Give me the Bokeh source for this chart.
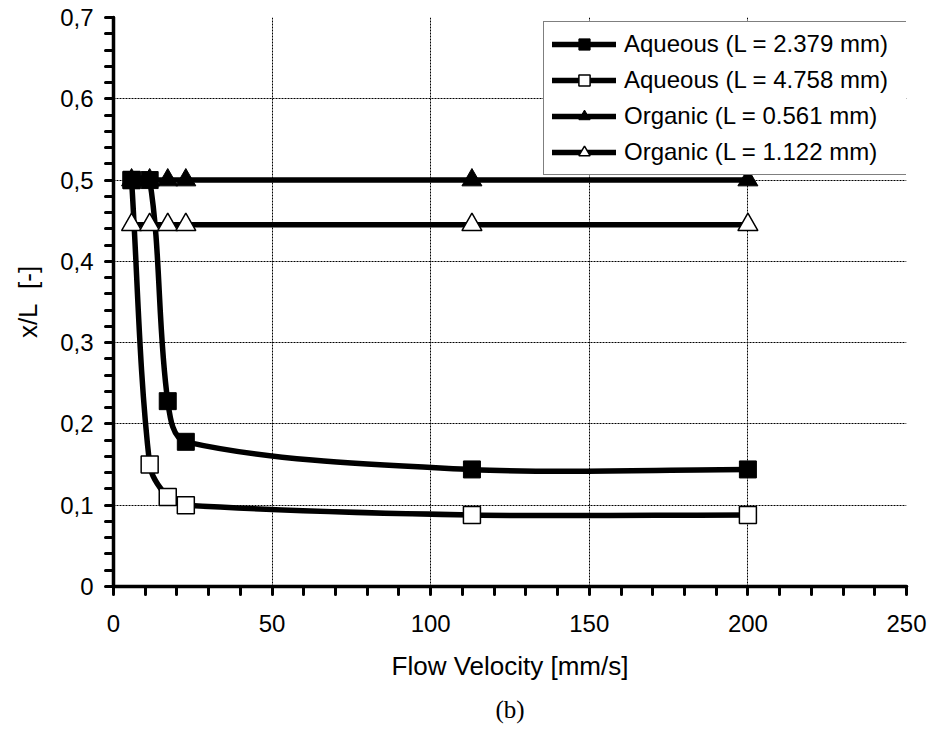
from bokeh.plotting import figure
from bokeh.models import (Range1d, FixedTicker, CustomJSTickFormatter, Legend,
                          LegendItem, Title, ColumnDataSource)
from bokeh.embed import file_html
from bokeh.resources import INLINE

# ---------------- data ----------------
velocity = [5.7, 11.4, 17.1, 22.8, 113.0, 200.0]
aqueous_2379 = [0.500, 0.500, 0.228, 0.178, 0.144, 0.144]
aqueous_4758 = [0.500, 0.150, 0.110, 0.100, 0.088, 0.088]
organic_0561 = [0.500, 0.500, 0.500, 0.500, 0.500, 0.500]
organic_1122 = [0.445, 0.445, 0.445, 0.445, 0.445, 0.445]

labels = ["Aqueous (L = 2.379 mm)", "Aqueous (L = 4.758 mm)",
          "Organic (L = 0.561 mm)", "Organic (L = 1.122 mm)"]

x_ticks = [0, 50, 100, 150, 200, 250]
x_minor = [10, 20, 30, 40, 60, 70, 80, 90, 110, 120, 130, 140, 160, 170, 180, 190,
           210, 220, 230, 240]
y_ticks = [0, 0.1, 0.2, 0.3, 0.4, 0.5, 0.6, 0.7]
y_minor = [0.02, 0.04, 0.06, 0.08, 0.12, 0.14, 0.16, 0.18, 0.22, 0.24, 0.26, 0.28,
           0.32, 0.34, 0.36, 0.38, 0.42, 0.44, 0.46, 0.48, 0.52, 0.54, 0.56, 0.58,
           0.62, 0.64, 0.66, 0.68]

X_MIN, X_MAX = 0, 250
Y_MIN, Y_MAX = 0, 0.7
FRAME_W, FRAME_H = 793, 569
FONT = "Liberation Sans"


def smooth_segments(xs, ys):
    """Bezier control points for a spreadsheet-style smoothed line."""
    kx = FRAME_W / (X_MAX - X_MIN)
    ky = FRAME_H / (Y_MAX - Y_MIN)
    pts = list(zip(xs, ys))
    n = len(pts)

    def dist(a, b):
        return (((a[0] - b[0]) * kx) ** 2 + ((a[1] - b[1]) * ky) ** 2) ** 0.5

    seg = dict(x0=[], y0=[], x1=[], y1=[], cx0=[], cy0=[], cx1=[], cy1=[])
    for i in range(n - 1):
        p0 = pts[max(i - 1, 0)]
        p1 = pts[i]
        p2 = pts[i + 1]
        p3 = pts[min(i + 2, n - 1)]
        d01, d12, d23 = dist(p0, p1), dist(p1, p2), dist(p2, p3)
        f1 = d12 / (d01 + d12) / 3 if d01 + d12 > 0 else 0
        f2 = d12 / (d12 + d23) / 3 if d12 + d23 > 0 else 0
        seg["x0"].append(p1[0]); seg["y0"].append(p1[1])
        seg["x1"].append(p2[0]); seg["y1"].append(p2[1])
        seg["cx0"].append(p1[0] + (p2[0] - p0[0]) * f1)
        seg["cy0"].append(p1[1] + (p2[1] - p0[1]) * f1)
        seg["cx1"].append(p2[0] - (p3[0] - p1[0]) * f2)
        seg["cy1"].append(p2[1] - (p3[1] - p1[1]) * f2)
    return ColumnDataSource(seg)


p = figure(width=933, height=738, output_backend="svg", toolbar_location=None,
           x_range=Range1d(X_MIN, X_MAX), y_range=Range1d(Y_MIN, Y_MAX),
           min_border_left=113, min_border_right=27, min_border_top=17,
           min_border_bottom=152)
p.outline_line_color = None
p.background_fill_color = "white"
p.border_fill_color = "white"

# grid
p.xgrid.ticker = FixedTicker(ticks=[50, 100, 150, 200])
p.ygrid.ticker = FixedTicker(ticks=[0.1, 0.2, 0.3, 0.4, 0.5, 0.6])
for g in (p.xgrid, p.ygrid):
    g.grid_line_color = "black"
    g.grid_line_width = 1
    g.grid_line_dash = "2 1"

# axes
p.xaxis.ticker = FixedTicker(ticks=x_ticks, minor_ticks=x_minor)
p.yaxis.ticker = FixedTicker(ticks=y_ticks, minor_ticks=y_minor)
p.yaxis.formatter = CustomJSTickFormatter(
    code="return tick == 0 ? '0' : tick.toFixed(1).replace('.', ',');")
for ax in (p.xaxis, p.yaxis):
    ax.axis_line_width = 3.5
    ax.axis_line_color = "black"
    ax.axis_line_cap = "round"
    ax.major_tick_line_width = 3
    ax.major_tick_line_cap = "round"
    ax.major_tick_in = 0
    ax.major_tick_out = 8
    ax.minor_tick_line_width = 3
    ax.minor_tick_line_cap = "round"
    ax.minor_tick_in = 0
    ax.minor_tick_out = 8
    ax.major_label_text_font = FONT
    ax.major_label_text_font_size = "24px"
    ax.major_label_text_color = "black"
    ax.axis_label_text_font = FONT
    ax.axis_label_text_font_size = "26px"
    ax.axis_label_text_font_style = "normal"
    ax.axis_label_text_color = "black"
p.xaxis.axis_label = "Flow Velocity [mm/s]"
p.yaxis.axis_label = "x/L\u00a0\u00a0[-]"
p.xaxis.major_label_standoff = 20
p.xaxis.axis_label_standoff = 16
p.yaxis.major_label_standoff = 12
p.yaxis.axis_label_standoff = 14

# curves
series = [aqueous_2379, aqueous_4758, organic_0561, organic_1122]
curves = []
for ys in series:
    r = p.bezier(x0="x0", y0="y0", x1="x1", y1="y1", cx0="cx0", cy0="cy0",
                 cx1="cx1", cy1="cy1", source=smooth_segments(velocity, ys),
                 line_color="black", line_width=5.5, line_cap="round")
    curves.append(r)

# markers (drawn so that filled squares end up on top)
m_tri_f = p.scatter(velocity, organic_0561, marker="triangle", size=20,
                    fill_color="black", line_color="black", line_width=1)
m_tri_o = p.scatter(velocity, organic_1122, marker="triangle", size=20,
                    fill_color="white", line_color="black", line_width=1.5)
m_sq_o = p.scatter(velocity, aqueous_4758, marker="square", size=17,
                   fill_color="white", line_color="black", line_width=1.5)
m_sq_f = p.scatter(velocity, aqueous_2379, marker="square", size=17,
                   fill_color="black", line_color="black", line_width=1)

markers = [m_sq_f, m_sq_o, m_tri_f, m_tri_o]
items = [LegendItem(label=lab, renderers=[c, m]) for lab, c, m in zip(labels, curves, markers)]
legend = Legend(items=items, location=(430, 411), padding=8, spacing=8,
                glyph_width=64, glyph_height=28, label_height=28, label_standoff=8,
                label_width=275, margin=0,
                label_text_font=FONT, label_text_font_size="24px",
                label_text_color="black",
                border_line_color="black", border_line_width=1.5,
                background_fill_color="white", background_fill_alpha=1)
p.add_layout(legend, "center")

p.add_layout(Title(text="(b)", align="center", text_font="Liberation Serif",
                   text_font_size="25px", text_font_style="normal",
                   text_color="black", standoff=20), "below")

open("out.html", "w").write(file_html(p, INLINE))
